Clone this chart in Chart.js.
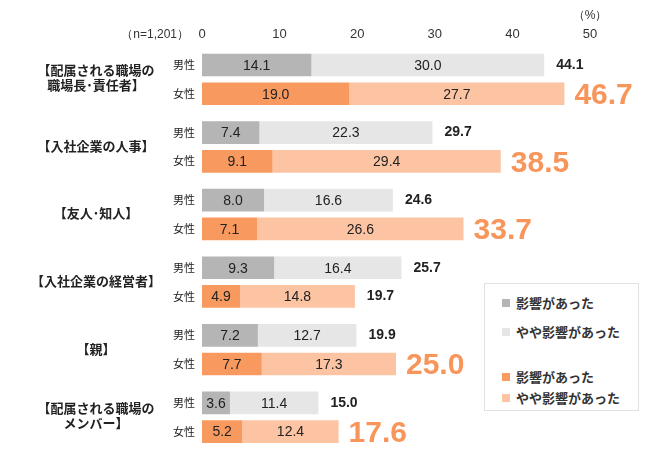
<!DOCTYPE html>
<html>
<head>
<meta charset="utf-8">
<script src="https://cdn.jsdelivr.net/npm/chart.js@4"></script>
<style>
  body { margin: 0; background: #fff; }
  #wrap { position: relative; width: 659px; height: 466px; }
  .legend {
    position: absolute; left: 484px; top: 283px; width: 153px; height: 126px;
    border: 1px solid #e2e2e2; background: #fff;
    font-family: "Noto Sans CJK JP", sans-serif; font-weight: bold; font-size: 13px; color: #333;
  }
  .legend div { position: absolute; left: 17px; height: 16px; line-height: 16px; white-space: nowrap; }
  .legend span { display: inline-block; width: 8px; height: 8px; margin-right: 6px; vertical-align: 1px; }
</style>
</head>
<body>
<div id="wrap">
  <canvas id="chart" width="659" height="466"></canvas>
  <div class="legend">
    <div style="top:11px"><span style="background:#b5b5b5"></span>影響があった</div>
    <div style="top:40px"><span style="background:#e6e6e6"></span>やや影響があった</div>
    <div style="top:85px"><span style="background:#f89a5f"></span>影響があった</div>
    <div style="top:106px"><span style="background:#fcc4a2"></span>やや影響があった</div>
  </div>
</div>
<script>
// 回答対象（影響を受けた相手）
const groups = [
    ['【配属される職場の', '職場長･責任者】'],
    '【入社企業の人事】',
    '【友人･知人】',
    '【入社企業の経営者】',
    '【親】',
    ['【配属される職場の', 'メンバー】']
];

// 男性
const maleStrong = [14.1, 7.4, 8.0, 9.3, 7.2, 3.6];
const maleSome = [30.0, 22.3, 16.6, 16.4, 12.7, 11.4];
const maleTotal = [44.1, 29.7, 24.6, 25.7, 19.9, 15.0];

// 女性
const femaleStrong = [19.0, 9.1, 7.1, 4.9, 7.7, 5.2];
const femaleSome = [27.7, 29.4, 26.6, 14.8, 17.3, 12.4];
const femaleTotal = [46.7, 38.5, 33.7, 19.7, 25.0, 17.6];

const xTicks = [0, 10, 20, 30, 40, 50];

const jp = '"Noto Sans CJK JP", sans-serif';
const num = '"Liberation Sans", Arial, sans-serif';

// 数値・ラベルの描画
const labelPlugin = {
    id: 'labels',
    afterDatasetsDraw(chart) {
        const c = chart.ctx;
        const yScale = chart.scales.y;
        c.save();

        // 項目名
        c.fillStyle = '#222';
        c.font = 'bold 13px ' + jp;
        c.textAlign = 'center';
        c.textBaseline = 'middle';
        groups.forEach((g, i) => {
            const lines = Array.isArray(g) ? g : [g];
            const y = yScale.getPixelForValue(i);
            const shift = lines.length > 1 ? -2 : -1;
            lines.forEach((t, k) => {
                c.fillText(t, 96, y - (lines.length - 1) * 7.5 + k * 15 + shift);
            });
        });

        // 男性/女性
        const mMeta = chart.getDatasetMeta(1);
        const fMeta = chart.getDatasetMeta(3);
        c.font = '11px ' + jp;
        c.textAlign = 'right';
        mMeta.data.forEach(el => c.fillText('男性', 195, el.y));
        fMeta.data.forEach(el => c.fillText('女性', 195, el.y));

        // 各区分の値
        c.font = '14px ' + num;
        c.textAlign = 'center';
        c.fillStyle = '#222';
        chart.data.datasets.forEach((ds, di) => {
            chart.getDatasetMeta(di).data.forEach((el, i) => {
                c.fillText(ds.data[i].toFixed(1), (el.x + el.base) / 2, el.y + 1);
            });
        });

        // 合計
        c.textAlign = 'left';
        mMeta.data.forEach((el, i) => {
            c.font = 'bold 14px ' + num;
            c.fillStyle = '#222';
            c.fillText(maleTotal[i].toFixed(1), el.x + 12, el.y);
        });
        fMeta.data.forEach((el, i) => {
            if (femaleTotal[i] > maleTotal[i]) {
                c.font = 'bold 30px ' + num;
                c.fillStyle = '#f7955a';
                c.fillText(femaleTotal[i].toFixed(1), el.x + 10, el.y + 2);
            } else {
                c.font = 'bold 14px ' + num;
                c.fillStyle = '#222';
                c.fillText(femaleTotal[i].toFixed(1), el.x + 12, el.y);
            }
        });

        // 注記
        c.font = '12px ' + num;
        c.fillStyle = '#333';
        c.textAlign = 'right';
        c.fillText('（n=1,201）', 189, 35);
        c.textAlign = 'center';
        c.fillText('（%）', 590, 16);
        c.restore();
    }
};

const ctx = document.getElementById('chart').getContext('2d');
new Chart(ctx, {
    type: 'bar',
    data: {
        labels: groups,
        datasets: [
            { label: '男性 影響があった', data: maleStrong, stack: 'm', backgroundColor: '#b5b5b5' },
            { label: '男性 やや影響があった', data: maleSome, stack: 'm', backgroundColor: '#e6e6e6' },
            { label: '女性 影響があった', data: femaleStrong, stack: 'f', backgroundColor: '#f89a5f' },
            { label: '女性 やや影響があった', data: femaleSome, stack: 'f', backgroundColor: '#fcc4a2' }
        ]
    },
    options: {
        indexAxis: 'y',
        responsive: false,
        animation: false,
        layout: { padding: { left: 202, right: 69, top: 24, bottom: 15 } },
        datasets: {
            bar: { categoryPercentage: 0.85, barPercentage: 0.79, borderWidth: 0 }
        },
        plugins: {
            legend: { display: false },
            tooltip: { enabled: false }
        },
        scales: {
            x: {
                position: 'top',
                stacked: true,
                min: xTicks[0],
                max: xTicks[xTicks.length - 1],
                afterBuildTicks: axis => { axis.ticks = xTicks.map(v => ({ value: v })); },
                grid: { display: false, drawTicks: false },
                border: { display: false },
                ticks: { color: '#333', font: { family: num, size: 13 }, padding: 3, maxRotation: 0 }
            },
            y: {
                stacked: true,
                display: false
            }
        }
    },
    plugins: [labelPlugin]
});
</script>
</body>
</html>
